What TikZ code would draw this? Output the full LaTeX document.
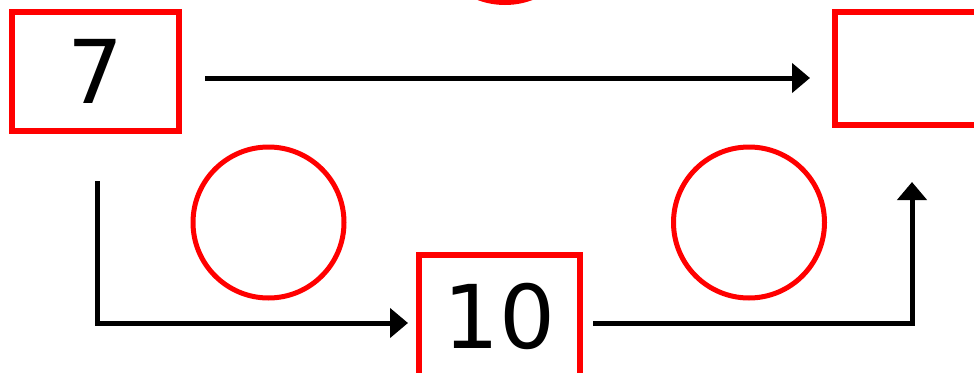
\documentclass[tikz,border=0pt]{standalone}
\usepackage{fontspec}
\setmainfont{DejaVu Sans}
\usetikzlibrary{arrows.meta,calc}
\definecolor{boxred}{RGB}{255,0,0}
\begin{document}
\begin{tikzpicture}[x=1pt,y=-1pt,
  numbox/.style={draw=boxred,line width=6pt,rectangle,inner sep=0pt,
    font=\fontsize{88}{100}\selectfont},
  ring/.style={draw=boxred,line width=5pt,circle,inner sep=0pt,minimum size=151pt},
  flow/.style={line width=5pt,-{Triangle[length=18pt,width=29pt]}}]
\useasboundingbox (0,0) rectangle (974,372);
\node[numbox,minimum width=167pt,minimum height=119pt] (b7) at (95.5,71.5) {7};
\node[numbox,minimum width=175pt,minimum height=113pt] (rb) at (922.5,68.5) {};
\node[numbox,minimum width=161pt,minimum height=122pt] (b10) at (499.5,316) {10};
\node[ring] (c1) at (268.5,222.5) {};
\node[ring] (c2) at (749,222.5) {};
\node[ring] (c3) at (505,-73) {};
\coordinate (s1) at ($(b7.south)+(1.5,47)$);
\coordinate (e2) at ($(b10.east)+(0,7)$);
\coordinate (t2) at (912,182);
\draw[flow,shorten <=23pt,shorten >=22pt] (b7.east |- 0,78) -- (rb.west |- 0,78);
\draw[flow] (s1) |- ($(b10.west)+(-8,7)$);
\draw[flow] ($(e2)+(10,0)$) -| (t2);
\end{tikzpicture}
\end{document}
